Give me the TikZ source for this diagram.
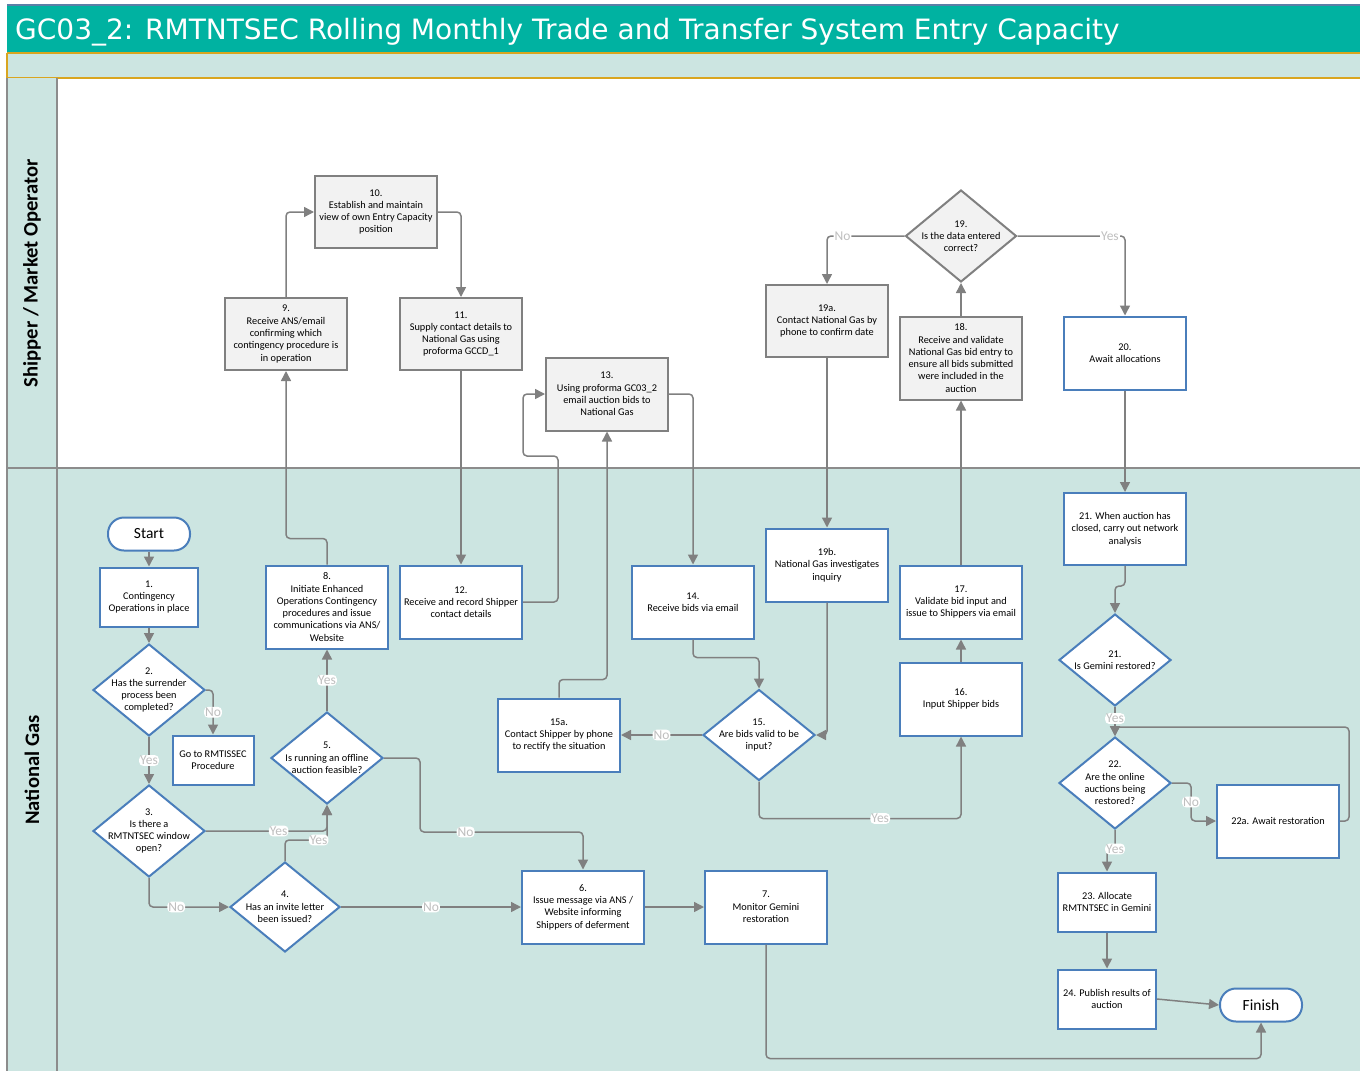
\documentclass[tikz,border=0pt]{standalone}
\usepackage{fontspec}
\setmainfont{Carlito}
\newfontfamily\titlefont{DejaVu Sans}
\usetikzlibrary{positioning, arrows.meta, shapes.geometric, calc}

\definecolor{titleteal}{HTML}{00B2A1}
\definecolor{laneteal}{HTML}{CCE5E1}
\definecolor{bandgold}{HTML}{D9A520}
\definecolor{boxblue}{HTML}{4A7EBB}
\definecolor{boxgrey}{HTML}{808080}
\definecolor{shfill}{HTML}{F2F2F2}
\definecolor{linegrey}{HTML}{808080}
\definecolor{lblgrey}{HTML}{BFBFBF}
\definecolor{lanegrey}{HTML}{8C8C8C}
\definecolor{topline}{HTML}{5B7FA6}
\newcommand\boxfont{\fontsize{10.3}{12.3}\selectfont}

\begin{document}
\begin{tikzpicture}[x=1pt,y=-1pt,
  ngbox/.style={rectangle,draw=boxblue,line width=2pt,fill=white,minimum width=122pt,minimum height=73pt,align=center,font=\boxfont,inner sep=2pt},
  shbox/.style={ngbox,draw=boxgrey,fill=shfill},
  ngdec/.style={diamond,draw=boxblue,line width=2pt,fill=white,minimum width=112pt,minimum height=92pt,inner sep=-40pt,align=center,font=\boxfont},
  shdec/.style={ngdec,draw=boxgrey,fill=shfill},
  term/.style={rectangle,rounded corners=16pt,draw=boxblue,line width=2pt,fill=white,minimum width=82pt,minimum height=33pt,font=\fontsize{15.5}{17}\selectfont},
  lbl/.style={fill=white,text=lblgrey,inner sep=1pt,font=\fontsize{13.5}{14}\selectfont},
  flow/.style={draw=linegrey,line width=1.5pt,rounded corners=4pt,-{Triangle[length=10pt,width=10pt]}},
  lane/.style={rotate=90,font=\fontsize{20.6}{22}\selectfont\bfseries}]
\useasboundingbox (0,0) rectangle (1360,1071);
% frame and lanes
\fill[titleteal](7,5) rectangle (1360,53);
\draw[topline,line width=1.5pt](7,5)--(1360,5);
\fill[laneteal](7,53) rectangle (1360,78);
\draw[bandgold,line width=2pt](7,53)--(1360,53) (7,78)--(1360,78) (7,53)--(7,78);
\fill[laneteal](7,78) rectangle (57,1071);
\fill[laneteal](57,468) rectangle (1360,1071);
\draw[lanegrey,line width=2pt](7,78)--(7,1071) (57,78)--(57,1071) (7,468)--(1360,468);
\node(title)[anchor=base west,text=white,inner sep=0pt,font=\titlefont\fontsize{28}{30}\selectfont] at (15,39){GC03\_2: RMTNTSEC Rolling Monthly Trade and Transfer System Entry Capacity};
\node(shipper)[lane] at (32,273){Shipper / Market Operator};
\node(natgas)[lane] at (32,770){National Gas};
%
\node(start)[term] at (149,534){Start};
\node(n1)[ngbox,minimum width=98pt,minimum height=59pt] at (149,597){1.\\Contingency\\Operations in place};
\node(n2)[ngdec] at (149,690){2.\\Has the surrender\\process been\\completed?};
\node(goto)[ngbox,minimum width=81pt,minimum height=49pt] at (213,760){Go to RMTISSEC\\Procedure};
\node(n3)[ngdec] at (149,831){3.\\Is there a\\RMTNTSEC window\\open?};
\node(n4)[ngdec,minimum width=110pt,minimum height=90pt] at (285,907){4.\\Has an invite letter\\been issued?};
\node(n5)[ngdec] at (327,758){5.\\Is running an offline\\auction feasible?};
\node(n8)[ngbox,minimum height=83pt] at (327,607){8.\\Initiate Enhanced\\Operations Contingency\\procedures and issue\\communications via ANS/\\Website};
\node(n6)[ngbox] at (583,907){6.\\Issue message via ANS /\\Website informing\\Shippers of deferment};
\node(n7)[ngbox] at (766,907){7.\\Monitor Gemini\\restoration};
%
\node(n9)[shbox,minimum height=72pt] at (286,334){9.\\Receive ANS/email\\confirming which\\contingency procedure is\\in operation};
\node(n10)[shbox,minimum height=72pt] at (376,212){10.\\Establish and maintain\\view of own Entry Capacity\\position};
\node(n11)[shbox,minimum height=72pt] at (461,334){11.\\Supply contact details to\\National Gas using\\proforma GCCD\_1};
\node(n12)[ngbox] at (461,602){12.\\Receive and record Shipper\\contact details};
\node(n13)[shbox] at (607,394){13.\\Using proforma GC03\_2\\email auction bids to\\National Gas};
\node(n14)[ngbox] at (693,602){14.\\Receive bids via email};
\node(n15)[ngdec,minimum height=91pt] at (759,735){15.\\Are bids valid to be\\input?};
\node(n15a)[ngbox] at (559,735){15a.\\Contact Shipper by phone\\to rectify the situation};
\node(n16)[ngbox] at (961,699){16.\\Input Shipper bids};
\node(n17)[ngbox] at (961,602){17.\\Validate bid input and\\issue to Shippers via email};
\node(n18)[shbox,minimum height=83pt] at (961,358){18.\\Receive and validate\\National Gas bid entry to\\ensure all bids submitted\\were included in the\\auction};
\node(n19)[shdec,minimum width=111pt] at (961,236){19.\\Is the data entered\\correct?};
\node(n19a)[shbox,minimum height=72pt] at (827,321){19a.\\Contact National Gas by\\phone to confirm date};
\node(n19b)[ngbox] at (827,565){19b.\\National Gas investigates\\inquiry};
\node(n20)[ngbox] at (1125,353){20.\\Await allocations};
%
\node(n21a)[ngbox,minimum height=72pt] at (1125,529){21. When auction has\\closed, carry out network\\analysis};
\node(n21)[ngdec] at (1115,660){21.\\Is Gemini restored?};
\node(n22)[ngdec] at (1115,783){22.\\Are the online\\auctions being\\restored?};
\node(n22a)[ngbox] at (1278,821){22a. Await restoration};
\node(n23)[ngbox,minimum width=98pt,minimum height=59pt] at (1107,902){23. Allocate\\RMTNTSEC in Gemini};
\node(n24)[ngbox,minimum width=98pt,minimum height=59pt] at (1107,999){24. Publish results of\\auction};
\node(finish)[term] at (1261,1005){Finish};
%
\coordinate(k56) at (420,832);
\coordinate(k12) at (558,456);
\coordinate(k13) at (523,456);
\coordinate(k22) at (1115,727);
%
\draw[flow](start.south)--(n1.north);
\draw[flow](n1.south)--(n2.north);
\draw[flow](n2.east)-|node[lbl,pos=0.75]{No}(goto.north);
\draw[flow](n2.south)--node[lbl]{Yes}(n3.north);
\draw[flow](n3.east)-|node[lbl,pos=0.3]{Yes}(n5.south);
\draw[flow](n3.south)|-node[lbl,pos=0.67]{No}(n4.west);
\draw[flow](n4.north)--++(0,-21)-|node[lbl,pos=0.4]{Yes}(n5.south);
\draw[flow](n4.east)--node[lbl]{No}(n6.west);
\draw[flow](n5.north)--node[lbl]{Yes}(n8.south);
\draw[flow](n5.east)-|(k56)-|node[lbl,pos=0.14]{No}(n6.north);
\draw[flow](n6.east)--(n7.west);
\draw[flow](n7.south)--++(0,114)-|(finish.south);
%
\draw[flow](n8.north)--++(0,-26)-|(n9.south);
\draw[flow](n9.north)|-(n10.west);
\draw[flow](n10.east)-|(n11.north);
\draw[flow](n11.south)--(n12.north);
\draw[flow](n12.east)-|(k12)--(k13)|-(n13.west);
\draw[flow](n15a.north)--++(0,-18)-|(n13.south);
\draw[flow](n13.east)-|(n14.north);
\draw[flow](n14.south)--++(0,18)-|(n15.north);
\draw[flow](n15.west)--node[lbl]{No}(n15a.east);
\draw[flow](n15.south)--++(0,37)-|node[lbl,pos=0.3]{Yes}(n16.south);
\draw[flow](n16.north)--(n17.south);
\draw[flow](n17.north)--(n18.south);
\draw[flow](n18.north)--(n19.south);
\draw[flow](n19.west)-|node[lbl,pos=0.4]{No}(n19a.north);
\draw[flow](n19.east)-|node[lbl,pos=0.43]{Yes}(n20.north);
\draw[flow](n19a.south)--(n19b.north);
\draw[flow](n19b.south)|-(n15.east);
%
\draw[flow](n20.south)--(n21a.north);
\draw[flow](n21a.south)--++(0,20)-|(n21.north);
\draw[flow](n21.south)--node[lbl,pos=0.4]{Yes}(n22.north);
\draw[flow](n22.east)--++(19,0)|-node[lbl,pos=0.25]{No}(n22a.west);
\draw[flow](n22a.east)--++(9,0)|-(k22)--(n22.north);
\draw[flow](n22.south)--++(0,19)node[lbl]{Yes}-|(n23.north);
\draw[flow](n23.south)--(n24.north);
\draw[flow](n24.east)--(finish.west);
\end{tikzpicture}
\end{document}
